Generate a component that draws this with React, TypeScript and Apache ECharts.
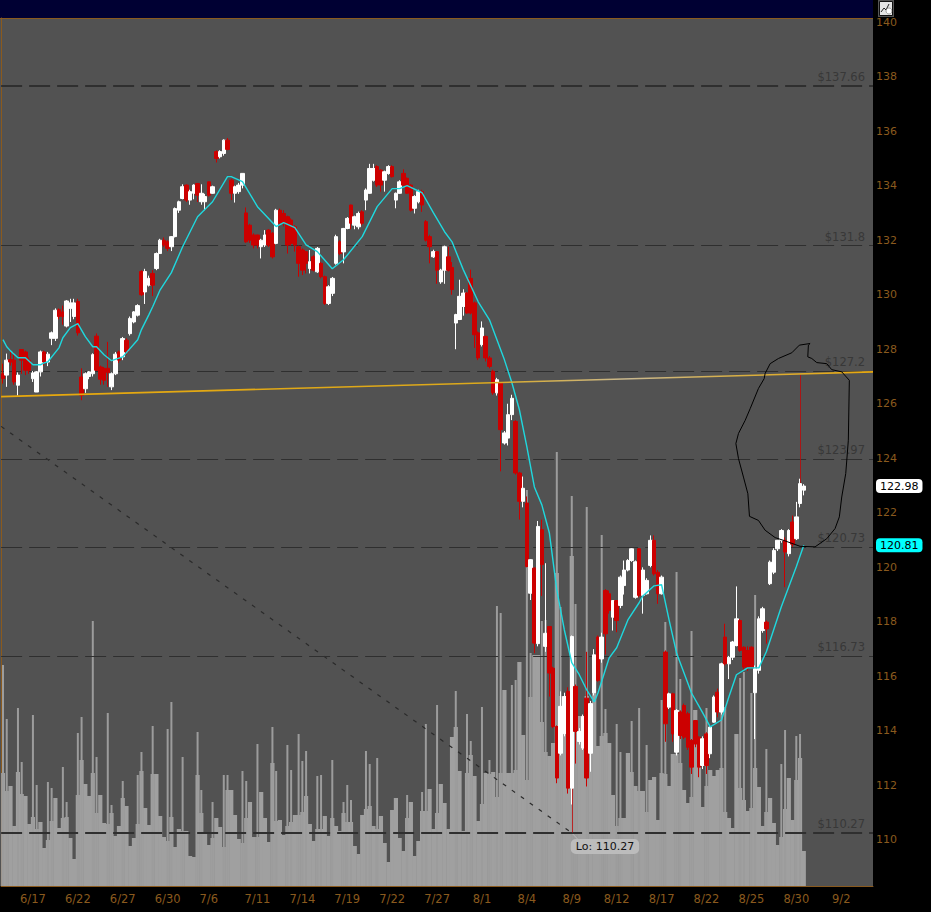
import React, { useEffect, useRef } from "react";
import * as echarts from "echarts";

const SLOTS = 233;
const tickSlots = [8, 20, 32, 44, 55, 68, 80, 92, 104, 116, 128, 140, 152, 164, 176, 188, 200, 212, 224];
const tickLabels = ["6/17", "6/22", "6/27", "6/30", "7/6", "7/11", "7/14", "7/19", "7/22", "7/27", "8/1", "8/4", "8/9", "8/12", "8/17", "8/22", "8/25", "8/30", "9/2"];
const priceTicks = [110, 112, 114, 116, 118, 120, 122, 124, 126, 128, 130, 132, 134, 136, 138, 140];
const levels = [137.66, 131.8, 127.2, 123.97, 120.73, 116.73, 110.27];
const levelLabels = ["$137.66", "$131.8", "$127.2", "$123.97", "$120.73", "$116.73", "$110.27"];
const heavyLevels = [137.66, 110.27];

// open, close, low, high
const candles: number[][] = [
  [127.1,126.92,126.74,127.47],[127.05,127.6,126.62,127.84],[127.62,127.53,127.4,127.9],[127.6,126.8,126.7,127.9],[126.68,127.05,126.3,127.15],
  [127.99,127.6,127.1,128.0],[127.9,127.23,127.05,127.95],[127.6,127.23,127.1,127.7],[126.92,127.13,126.8,127.2],[126.43,127.17,126.43,127.2],
  [127.17,127.9,127.0,127.95],[127.9,127.53,127.4,127.95],[127.53,127.82,127.38,127.9],[128.4,128.6,128.15,128.65],[128.4,129.43,128.3,129.5],
  [129.45,129.2,129.1,129.5],[129.37,129.2,128.9,129.6],[128.85,129.77,128.8,129.8],[129.5,129.7,129.0,129.85],[129.2,129.7,129.1,129.85],
  [129.75,128.6,128.5,129.85],[126.98,126.31,126.13,127.3],[126.55,127.1,126.4,127.15],[127.0,127.17,126.9,127.2],[127.1,127.8,127.0,127.85],
  [128.48,127.23,127.2,128.58],[127.35,126.9,126.7,127.4],[127.3,126.86,126.7,127.35],[127.3,127.15,126.62,128.27],[126.62,127.1,126.5,127.15],
  [127.1,127.82,127.05,127.9],[127.9,127.6,127.5,127.95],[127.72,128.39,127.6,128.45],[128.33,127.9,127.8,128.4],[128.57,129.13,128.5,129.2],
  [129.0,129.37,128.95,129.4],[129.25,129.6,129.2,129.65],[130.85,130.0,129.95,130.9],[130.1,130.85,129.66,130.95],[130.35,130.6,130.3,130.7],
  [130.78,130.35,129.95,130.9],[130.96,131.51,130.9,131.55],[131.51,132,131.5,132.05],[132,131.82,131.75,132.1],[131.94,131.7,131.6,132],
  [131.76,132.13,131.6,132.15],[132.13,133.16,132.1,133.2],[133.1,133.41,133,133.45],[133.53,133.96,133.5,134.05],[134.02,133.47,133.4,134.05],
  [133.47,133.78,133.3,133.85],[133.72,134.02,133.5,134.05],[134.08,133.65,133.4,134.1],[133.41,133.72,133.3,134.05],[133.41,133.6,133.1,133.7],
  [134.14,133.65,133.6,134.15],[133.72,133.96,133.7,134],[135.25,135,134.85,135.3],[135.06,135.25,135,135.3],[135.18,135.67,135.1,135.7],
  [135.67,135.33,135.3,135.75],[134.2,133.72,133.47,134.25],[133.72,133.96,133.38,134],[133.78,134.02,133.7,134.1],[134.02,134.45,133.9,134.45],
  [133,131.94,131.9,133.2],[132.55,132,131.9,132.6],[132.19,131.82,131.7,132.25],[132.19,131.82,131.7,132.2],[131.76,132,131.33,132.05],
  [131.82,132.19,131.75,132.37],[132.37,131.82,131.75,132.4],[132.25,131.39,131.33,132.3],[131.88,133.1,131.85,133.15],[133.1,132.62,132.5,133.16],
  [132.98,132.62,132.5,133.1],[132.86,131.82,131.51,132.9],[132.74,131.88,131.8,132.8],[132.49,131.82,131.58,132.55],[131.76,131.15,130.66,131.8],
  [131.64,130.9,130.72,131.7],[131.58,131.15,130.78,131.6],[130.96,131.21,130.78,131.64],[131.39,130.9,130.85,131.45],[130.84,131.7,130.8,131.75],
  [131.15,130.66,130.6,131.2],[130.66,129.68,129.62,130.7],[129.68,130.29,129.62,130.35],[130.05,130.6,129.95,130.65],[131.15,132.13,131.1,132.2],
  [131.94,131.51,131.45,132],[131.57,132.43,131.15,132.45],[132.43,132.8,132.4,132.85],[133.29,132.62,132.4,133.3],[132.55,132.86,132.4,132.9],
  [132.49,132.98,132.4,133.05],[133.04,132.62,132.55,133.1],[133.47,133.84,133.1,133.9],[133.72,134.63,133.7,134.8],[134.2,134.63,134.15,134.8],
  [134.7,134.02,133.95,134.75],[134.57,134.02,133.78,134.6],[134.2,134.51,133.78,134.55],[134.45,134.7,134.4,134.75],[134.7,134.33,134.3,134.75],
  [133.47,133.72,133.17,133.75],[133.72,134.14,133.7,134.2],[134.45,134.02,134,134.6],[134.27,133.72,133.7,134.3],[134.02,133.1,133.05,134.05],
  [133.17,133.6,132.98,133.65],[133.41,133.78,133.35,133.85],[133.78,133.29,133.04,133.85],[132.68,132,131.95,132.74],[132.13,131.76,131.15,132.2],
  [131.39,131.58,131.35,131.65],[131.58,130.9,130.4,131.6],[130.47,130.9,130.4,130.95],[130.9,131.76,130.4,131.8],[131.39,130.9,130.85,131.76],
  [131,130.19,130,131.2],[128.96,129.27,128,129.3],[129.09,129.94,129.07,130.55],[129.57,130.06,129.23,130.2],[130.06,129.33,129.3,130.1],
  [130.6,129.33,129.28,130.92],[129.7,128.53,128.05,129.75],[128.6,127.68,127.6,128.65],[128.17,128.78,128.1,129.02],[128.47,127.68,127.55,128.5],
  [127.68,127.37,127.3,127.75],[127.19,126.4,126.33,127.25],[126.4,126.88,126.3,126.95],[126.76,125.05,123.52,126.8],[124.56,124.93,124.5,125.0],
  [124.74,125.6,124.47,126],[125.6,126.2,125.4,126.33],[125.35,123.46,123.4,125.4],[123.46,122.42,121.75,123.5],[122.42,122.9,122.2,123.33],
  [122.36,120.03,120,122.6],[119.05,120.28,118.8,120.3],[119.97,117.22,116.85,120],[117.2,121.5,117.1,121.7],[121.38,120.1,118.95,121.75],
  [117.1,117.58,116.9,120.15],[117.83,116.12,115.26,117.83],[116.3,114.16,114.1,116.35],[114.16,112.27,112.08,114.2],[113.18,114.9,113.1,115.45],
  [113.9,115.26,113.8,115.4],[115.45,111.9,111.7,115.6],[111.9,117.46,111.3,117.5],[115.63,113.98,112.8,115.7],[113.61,113.98,113.5,114.1],
  [113.37,114.53,113.3,114.6],[115.2,112.27,111.96,116.9],[113.18,115,112.5,115.1],[115.4,116.79,115.3,117],[117.44,115.85,115.8,117.5],
  [116.64,117.44,116.5,117.6],[119.15,117.56,116.8,119.2],[119.03,118.42,118.3,119.15],[118.17,118.78,117.68,118.8],[118.78,118.05,117.62,118.8],
  [118.6,119.64,118.5,119.7],[119.33,119.9,119,120.25],[119.9,120.25,119.85,120.3],[120.25,120.68,120.2,120.7],[118.9,120.2,118.85,120.25],
  [120.68,118.97,118.9,120.7],[118.97,119.9,118.3,120],[119.03,119.52,119,119.6],[120.07,120.99,120,121.17],[120.99,119.76,119.7,121.17],
  [119.82,119.03,118.66,119.9],[119.03,119.64,119,119.7],[116.89,114.26,113.6,116.95],[114.87,115.36,114.8,115.4],[115.36,113.89,113.6,115.4],
  [113.22,114.75,113.1,114.8],[114.69,113.83,113.7,114.75],[114.93,113.77,113.7,115],[114.63,113.4,113.3,114.7],[113.65,112.67,112.42,113.7],
  [114.38,113.52,113.4,114.4],[113.77,112.67,112.3,113.8],[112.73,113.71,112.6,113.8],[113.89,112.73,112.42,113.95],[113.16,114.14,113,114.2],
  [114.32,115.24,114.3,115.3],[115.42,114.69,114.5,115.55],[114.69,116.46,114.6,116.5],[117.44,116.46,116.4,117.93],[116.46,116.7,115.9,116.75],
  [116.7,117.26,116.6,117.3],[117.13,118.11,117.1,119.3],[118.05,116.95,116.9,118.1],[117.07,116.34,116.2,117.1],[116.95,116.34,116.2,117.1],
  [117.07,116.34,116.3,117.1],[115.4,116.28,113.7,116.4],[116.22,118.11,116.1,118.2],[117.68,118.48,117.6,118.55],[117.99,117.74,117.2,118.05],
  [119.4,120.19,119.35,120.25],[119.82,120.62,119.75,120.7],[120.68,120.99,120.6,121.0],[120.99,121.35,120.9,121.4],[120.99,120.56,119.27,121.1],
  [120.5,121.35,120.4,121.4],[121.66,120.85,120.75,121.9],[121.05,121.85,121,122.4],[122.34,123.07,122.2,123.25],[122.83,122.98,122.64,123.05],
];

// thin wicks that share a slot with another candle: slot, body end, wick end
const wickSlots = [152, 213];
const wickFrom = [111.9, 122.83];
const wickTo = [110.27, 127.05];

const volumeBase = [
  113,95,100,60,114,92,90,62,69,57, 64,38,46,65,88,58,68,69,48,27, 91,126,102,90,113,73,91,63,62,73,
  50,60,88,80,40,48,62,115,78,61, 112,112,70,49,45,69,39,57,55,55, 30,29,111,73,54,41,48,68,59,39,
  96,96,71,47,43,68,84,49,49,94, 68,44,123,65,66,51,60,64,71,71, 74,90,62,45,57,57,70,50,68,60,
  55,73,64,64,40,32,71,77,80,60, 57,70,43,24,76,88,48,35,68,84, 30,45,75,75,97,57,73,102,83,57,
  149,159,115,55,113,131,110,65,82,113, 112,114,89,113,196,113,113,116,224,151, 106,189,231,231,164,134,130,143,313,190,
  170,190,330,180,170,150,190,150,216,140, 150,153,143,91,60,68,68,133,114,100, 95,95,74,106,109,66,113,112,100,132,
  132,123,96,83,89,176,120,79,100,116, 110,116,118,74,68,58,152,98,86,75, 78,118,99,60,74,88,63,41,49,77,
  108,66,106,128,35,
];
const spikeSlots = [0,1,4,5,8,9,12,13,16,17,20,21,24,25,28,29,32,36,37,40,44,45,48,52,53,56,59,60,64,65,68,72,73,76,77,79,80,81,84,85,88,91,92,93,97,98,100,108,112,113,116,121,124,125,128,130,132,133,136,137,140,141,144,145,148,149,152,153,156,160,161,164,165,168,170,172,176,177,180,181,184,188,192,193,197,198,200,201,204,208,209,212,213];
const spikeVolumes = [221,167,178,124,171,101,104,98,119,84,153,169,265,129,173,81,105,111,134,160,157,184,129,154,96,84,111,111,115,105,142,159,115,141,116,152,125,135,110,111,126,84,101,86,135,122,128,91,94,162,181,195,172,145,179,126,280,273,201,206,396,233,265,266,434,279,390,282,379,351,177,162,134,165,178,141,186,264,314,207,255,178,193,179,208,214,193,291,137,122,156,150,152];

// moving average, read at these slots
const maSlots = [0,1,2,4,6,8,10,11,12,15,16,18,20,22,24,25,27,29,32,36,37,39,40,42,45,48,52,56,60,61,64,68,73,75,78,81,84,88,91,96,100,104,106,108,112,115,118,120,123,127,130,134,136,138,140,142,144,146,148,150,152,154,156,158,159,162,164,167,170,171,174,176,178,180,184,187,189,192,194,196,199,202,204,208,212,214];
const maValues = [128.35,128.09,127.94,127.69,127.69,127.43,127.43,127.5,127.54,128.06,128.42,128.79,128.94,128.46,128.09,128.09,127.8,127.58,127.72,128.35,128.72,129.27,129.56,130.18,130.81,131.76,132.86,133.41,134.33,134.33,134.15,133.23,132.5,132.64,132.46,131.83,131.58,130.95,131.28,132.13,133.23,133.89,133.89,134.0,133.74,133.01,132.31,131.94,130.92,129.74,129.08,127.61,126.77,125.78,124.42,122.95,122.29,121.27,119.17,117.71,116.5,116.06,115.5,115.06,115.39,116.68,117.05,118.07,118.7,118.95,119.32,119.36,118.07,116.86,115.39,114.66,114.15,114.4,115.25,116.06,116.31,116.31,116.9,118.55,120.02,120.81];

// annotations on the hidden 0-873 horizontal scale
const trendX = [0, 873];
const trendPrice = [126.26, 127.17];
const diagonalX = [0, 571];
const diagonalPrice = [125.17, 110.27];
const leaderX = [571, 578];
const leaderPrice = [110.27, 110.0];
const blobX = [810,799.3,791.7,778.3,770,765,764,758.3,750,745,738.3,735.7,738.3,743.3,747.7,749.3,758.3,765,775,783.3,800,815,826.7,835,839.3,841.7,845.7,848.3,849.3,841.7,831.7,826.7,816.7,811.7,807.7,808.3,810];
const blobPrice = [128.21,128.15,127.87,127.66,127.47,127.11,126.92,126.56,125.82,125.39,124.91,124.54,123.99,123.31,122.7,121.87,121.72,121.36,121.09,120.99,120.77,120.75,121.05,121.42,121.85,122.58,123.44,124.66,126.86,127.17,127.25,127.47,127.51,127.66,127.72,128.15,128.21];

const lastTag = 122.98;
const maTag = 120.81;
const loLabel = "Lo: 110.27";
const loSlot = 152;
const loPrice = 110.27;

const FONT = "DejaVu Sans";
const BROWN = "#8a5a1e";

export default function App() {
  const ref = useRef<HTMLDivElement>(null);

  useEffect(() => {
    document.body.style.margin = "0";
    document.body.style.background = "#000";
    const chart = echarts.init(ref.current!, undefined, { renderer: "svg" });

    const categories = Array.from({ length: SLOTS }, (_, i) => {
      const k = tickSlots.indexOf(i);
      return k >= 0 ? tickLabels[k] : "";
    });
    const ma: (number | null)[] = candles.map(() => null);
    maSlots.forEach((s, k) => (ma[s] = maValues[k]));
    const spikes: (number | null)[] = candles.map(() => null);
    spikeSlots.forEach((s, k) => (spikes[s] = spikeVolumes[k]));
    const zip = (xs: number[], ys: number[]) => xs.map((x, i) => [x, ys[i]]);

    const hiddenCat = { type: "category" as const, data: categories, show: false, gridIndex: 0 };

    chart.setOption({
      animation: false,
      backgroundColor: "#000000",
      grid: { left: 0, top: 18, right: 58, bottom: 26, show: true, backgroundColor: "#525252", borderWidth: 0 },
      xAxis: [
        {
          type: "category",
          data: categories,
          axisLine: { lineStyle: { color: BROWN, width: 1 } },
          axisTick: { show: false },
          splitLine: { show: false },
          axisLabel: { interval: 0, color: BROWN, fontFamily: FONT, fontSize: 11.5, margin: 7, hideOverlap: false },
        },
        { type: "value", min: 0, max: 873, show: false },
        hiddenCat,
      ],
      yAxis: [
        {
          type: "value",
          position: "right",
          min: 108.31,
          max: 140.15,
          splitLine: { show: false },
          axisLine: { show: true, lineStyle: { color: BROWN, width: 1 } },
          axisTick: { show: false },
          axisLabel: { customValues: priceTicks, color: BROWN, fontFamily: FONT, fontSize: 11, margin: 3, formatter: (v: number) => String(v) },
        },
        { type: "value", min: 0, max: 868, show: false },
      ],
      series: [
        { type: "bar", name: "volume", data: volumeBase, xAxisIndex: 0, yAxisIndex: 1, barWidth: 4.2, itemStyle: { color: "#a0a0a0" }, z: 1, silent: true },
        { type: "bar", name: "volume peaks", data: spikes, xAxisIndex: 2, yAxisIndex: 1, barWidth: 2, itemStyle: { color: "#9c9c9c" }, z: 1, silent: true },
        {
          type: "line",
          name: "levels",
          data: ma,
          connectNulls: true,
          showSymbol: false,
          lineStyle: { opacity: 0 },
          xAxisIndex: 0,
          yAxisIndex: 0,
          z: 3,
          silent: true,
          markLine: {
            silent: true,
            symbol: "none",
            animation: false,
            precision: 2,
            data: [
              ...levels.map((v, i) => ({
                yAxis: v,
                lineStyle: { color: "#2f2f2f", type: [21, 7], width: heavyLevels.includes(v) ? 2 : 1 },
                label: {
                  show: true,
                  position: "insideEndTop",
                  distance: [8, 3],
                  formatter: levelLabels[i],
                  color: "#383838",
                  fontFamily: FONT,
                  fontSize: 11.5,
                },
              })),
              ...wickSlots.map((s, i) => [
                { xAxis: s, yAxis: wickFrom[i], lineStyle: { color: "#c00808", type: "solid", width: 0.8 }, label: { show: false } },
                { xAxis: s, yAxis: wickTo[i] },
              ]),
            ],
          },
          markPoint: {
            silent: true,
            symbol: "circle",
            symbolSize: 0,
            data: [
              {
                coord: [loSlot, loPrice],
                label: {
                  show: true,
                  formatter: loLabel,
                  position: "right",
                  distance: 0,
                  offset: [-1, 14],
                  backgroundColor: "#bcbcbc",
                  borderRadius: 5,
                  padding: [2, 5, 2, 5],
                  color: "#111111",
                  fontFamily: FONT,
                  fontSize: 11,
                },
              },
            ],
          },
        },
        {
          type: "line",
          name: "drawn diagonal",
          data: zip(diagonalX, diagonalPrice),
          xAxisIndex: 1,
          yAxisIndex: 0,
          showSymbol: false,
          lineStyle: { color: "#2a2a2a", width: 1.2, type: [4, 7] },
          z: 3,
          silent: true,
        },
        {
          type: "line",
          name: "leader",
          data: zip(leaderX, leaderPrice),
          xAxisIndex: 1,
          yAxisIndex: 0,
          showSymbol: false,
          lineStyle: { color: "#bcbcbc", width: 1 },
          z: 3,
          silent: true,
        },
        {
          type: "candlestick",
          name: "price",
          data: candles,
          xAxisIndex: 0,
          yAxisIndex: 0,
          barWidth: 4,
          itemStyle: { color: "#ffffff", color0: "#cc0000", borderColor: "#ffffff", borderColor0: "#cc0000", borderWidth: 1 },
          z: 5,
          silent: true,
        },
        {
          type: "line",
          name: "average",
          data: ma,
          connectNulls: true,
          showSymbol: false,
          xAxisIndex: 0,
          yAxisIndex: 0,
          lineStyle: { color: "#1fd8de", width: 1.4 },
          z: 6,
          silent: true,
        },
        {
          type: "line",
          name: "trend",
          data: zip(trendX, trendPrice),
          xAxisIndex: 1,
          yAxisIndex: 0,
          showSymbol: false,
          lineStyle: {
            width: 1.6,
            color: new echarts.graphic.LinearGradient(0, 0, 1, 0, [
              { offset: 0, color: "#e8a80c" },
              { offset: 0.55, color: "#dca91c" },
              { offset: 0.72, color: "#c9b88f" },
              { offset: 0.85, color: "#d8ae40" },
              { offset: 1, color: "#e8a80c" },
            ]),
          },
          z: 7,
          silent: true,
        },
        {
          type: "line",
          name: "hand-drawn outline",
          data: zip(blobX, blobPrice),
          xAxisIndex: 1,
          yAxisIndex: 0,
          showSymbol: false,
          lineStyle: { color: "#000000", width: 1 },
          z: 8,
          silent: true,
        },
      ],
    });

    const tagY = (v: number) => chart.convertToPixel({ yAxisIndex: 0 }, v) as number;
    chart.setOption({
      graphic: [
        { type: "rect", z: 0, shape: { x: 0, y: 18, width: 2, height: 868 }, style: { fill: "#525252" }, silent: true },
        { type: "rect", shape: { x: 0, y: 0, width: 873, height: 18 }, style: { fill: "#000033" }, silent: true },
        { type: "line", shape: { x1: 0, y1: 18.5, x2: 873, y2: 18.5 }, style: { stroke: BROWN, lineWidth: 1 }, silent: true },
        { type: "rect", shape: { x: 878, y: 0, width: 16, height: 17 }, style: { fill: "#555555" }, silent: true },
        { type: "rect", shape: { x: 879.5, y: 1.5, width: 13, height: 14 }, style: { fill: "#e4e4e4", stroke: "#111111", lineWidth: 1 }, silent: true },
        { type: "polyline", shape: { points: [[881, 12], [884, 8], [886, 10], [889, 4]] }, style: { stroke: "#222222", fill: "none", lineWidth: 1 }, silent: true },
        { type: "circle", shape: { cx: 889, cy: 11, r: 3 }, style: { fill: "#ffffff", stroke: "#555555", lineWidth: 0.5 }, silent: true },
        {
          type: "text",
          x: 876,
          y: tagY(lastTag),
          style: {
            text: lastTag.toFixed(2),
            fill: "#000000",
            backgroundColor: "#ffffff",
            borderRadius: 4,
            padding: [2, 4, 1, 4],
            font: `11px "${FONT}"`,
            verticalAlign: "middle",
            align: "left",
          },
          silent: true,
        },
        {
          type: "text",
          x: 876,
          y: tagY(maTag),
          style: {
            text: maTag.toFixed(2),
            fill: "#000000",
            backgroundColor: "#00ffff",
            borderRadius: 4,
            padding: [2, 4, 1, 4],
            font: `11px "${FONT}"`,
            verticalAlign: "middle",
            align: "left",
          },
          silent: true,
        },
      ],
    });

    return () => chart.dispose();
  }, []);

  return <div ref={ref} style={{ position: "absolute", left: 0, top: 0, width: 931, height: 912 }} />;
}
